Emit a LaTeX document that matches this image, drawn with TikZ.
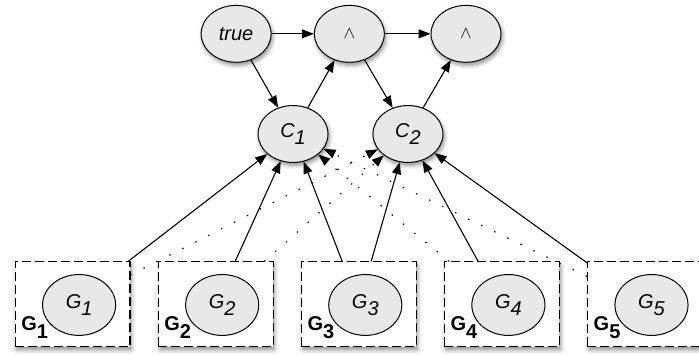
\documentclass[tikz,border=0pt]{standalone}
\usepackage{fontspec}
\setmainfont{Liberation Sans}
\usepackage{tikz}
\usetikzlibrary{arrows.meta,calc,positioning,shapes.geometric,shadows.blur}

\newcommand{\lowidx}[1]{\raisebox{-0.38em}{#1}}

\begin{document}
\begin{tikzpicture}[
		oval/.style={ellipse, draw, fill=black!9, line width=1pt, inner sep=0pt,
			font=\fontsize{20}{22}\selectfont\itshape},
		vertex/.style={oval, minimum width=2.46cm, minimum height=2.0cm,
			blur shadow={shadow xshift=1.5pt, shadow yshift=-3pt, shadow blur radius=4pt, shadow opacity=45}},
		goal/.style={oval, minimum width=2.57cm, minimum height=2.14cm},
		goalbox/.style={rectangle, draw, fill=white, line width=1.1pt, dash pattern=on 9pt off 4pt,
			minimum width=4.04cm, minimum height=2.99cm,
			blur shadow={shadow xshift=1.5pt, shadow yshift=-3pt, shadow blur radius=4pt, shadow opacity=45}},
		boxlabel/.style={inner sep=0pt, anchor=base west, font=\fontsize{20}{22}\selectfont\bfseries},
		dotline/.style={dash pattern=on 1.5pt off 13pt},
		line width=1.1pt,
		->,>={Triangle[length=12pt,width=9pt]} % pointes pleines
		]
		\useasboundingbox (0,0) rectangle (24.57,12.51);
		
		% Ligne du haut
		\node[vertex] (true) at (8.30, 11.32) {true};
		\node[vertex, font=\fontsize{17}{19}\selectfont] (and1) at (12.28, 11.32) {$\wedge$};
		\node[vertex, font=\fontsize{17}{19}\selectfont] (and2) at (16.38, 11.32) {$\wedge$};
		
		% Les conjonctions
		\node[vertex] (c1) at (10.30, 7.80) {C\lowidx{1}};
		\node[vertex] (c2) at (14.34, 7.80) {C\lowidx{2}};
		
		% Les sous-buts (cadres)
		\node[goalbox] (g1box) at (2.55, 1.81) {};
		\node[goalbox] (g2box) at (7.58, 1.81) {};
		\node[goalbox] (g3box) at (12.61, 1.81) {};
		\node[goalbox] (g4box) at (17.64, 1.81) {};
		\node[goalbox] (g5box) at (22.67, 1.81) {};
		
		\node[goal] (g1) at (2.78, 1.79) {G\lowidx{1}};
		\node[goal] (g2) at (7.81, 1.79) {G\lowidx{2}};
		\node[goal] (g3) at (12.84, 1.79) {G\lowidx{3}};
		\node[goal] (g4) at (17.87, 1.79) {G\lowidx{4}};
		\node[goal] (g5) at (22.90, 1.79) {G\lowidx{5}};
		
		\node[boxlabel] (l1) at ($(g1box.south west)+(0.22,0.6)$) {G\lowidx{1}};
		\node[boxlabel] (l2) at ($(g2box.south west)+(0.22,0.6)$) {G\lowidx{2}};
		\node[boxlabel] (l3) at ($(g3box.south west)+(0.22,0.6)$) {G\lowidx{3}};
		\node[boxlabel] (l4) at ($(g4box.south west)+(0.22,0.6)$) {G\lowidx{4}};
		\node[boxlabel] (l5) at ($(g5box.south west)+(0.22,0.6)$) {G\lowidx{5}};
		
		% Les arcs du haut
		\draw (true) to (and1);
		\draw (and1) to (and2);
		\draw (true) to (c1);
		\draw (c1) to (and1);
		\draw (and1) to (c2);
		\draw (c2) to (and2);
		
		% Les arcs des sous-buts
		\draw (g1box) to (c1);
		\draw (g2box) to (c1);
		\draw (g3box) to (c1);
		\draw (g3box) to (c2);
		\draw (g4box) to (c2);
		\draw (g5box) to (c2);
		\draw[dotline] (g1box) to (c2);
		\draw[dotline] (g2box) to (c2);
		\draw[dotline] (g4box) to (c1);
		\draw[dotline] (g5box) to (c1);
	\end{tikzpicture}
\end{document}
